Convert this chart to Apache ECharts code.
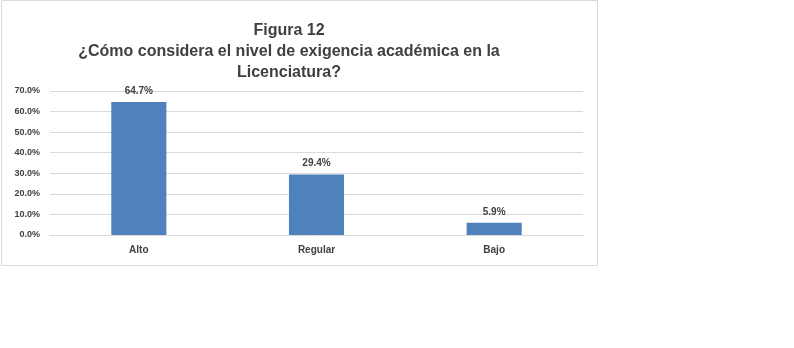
<!DOCTYPE html>
<html>
<head>
<meta charset="utf-8">
<script src="https://cdn.jsdelivr.net/npm/echarts@6/dist/echarts.min.js"></script>
<style>
  html, body { margin: 0; padding: 0; background: #fff; }
  #chart { width: 794px; height: 348px; }
</style>
</head>
<body>
<div id="chart"></div>
<script>
// datos de la figura
var categorias = ['Alto', 'Regular', 'Bajo'];
var porcentajes = [0.647, 0.294, 0.059];
var tituloLineas = ['Figura 12', '¿Cómo considera el nivel de exigencia académica en la', 'Licenciatura?'];

var myChart = echarts.init(document.getElementById('chart'));

function pct(v) {
  return (v * 100).toFixed(1) + '%';
}

var option = {
  animation: false,
  textStyle: {
    fontFamily: 'Liberation Sans, Arial, sans-serif'
  },
  graphic: [
    {
      type: 'rect',
      shape: { x: 1.5, y: 0.5, width: 596, height: 265 },
      style: { fill: 'none', stroke: '#d9d9d9', lineWidth: 1 }
    }
  ],
  title: {
    text: tituloLineas.join('\n'),
    left: 284,
    top: 15,
    textAlign: 'center',
    textStyle: {
      fontSize: 16,
      lineHeight: 21,
      color: '#404040',
      fontWeight: 'bold'
    }
  },
  grid: {
    left: 50,
    top: 91,
    width: 533,
    height: 144
  },
  xAxis: {
    type: 'category',
    data: categorias,
    axisLine: { lineStyle: { color: '#d9d9d9' } },
    axisTick: { show: false },
    axisLabel: {
      color: '#404040',
      fontSize: 10,
      fontWeight: 'bold',
      margin: 10
    }
  },
  yAxis: {
    type: 'value',
    min: 0,
    max: 0.7,
    interval: 0.1,
    axisLine: { show: false },
    axisTick: { show: false },
    splitLine: { lineStyle: { color: '#d9d9d9' } },
    axisLabel: {
      color: '#404040',
      fontSize: 9,
      fontWeight: 'bold',
      margin: 10,
      formatter: function (v) { return pct(v); }
    }
  },
  series: [
    {
      type: 'bar',
      data: porcentajes,
      barWidth: '31%',
      itemStyle: { color: '#4f81bd' },
      label: {
        show: true,
        position: 'top',
        distance: 6,
        color: '#404040',
        fontSize: 10,
        fontWeight: 'bold',
        formatter: function (p) { return pct(p.value); }
      }
    }
  ]
};

myChart.setOption(option);
</script>
</body>
</html>
